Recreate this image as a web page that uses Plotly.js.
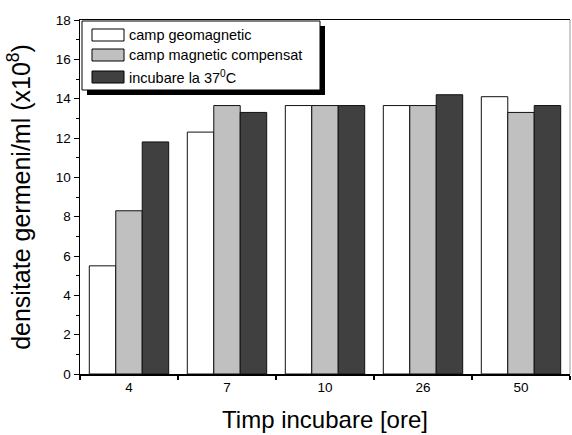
<!DOCTYPE html>
<html>
<head>
<meta charset="utf-8">
<script src="https://cdn.plot.ly/plotly-3.0.1.min.js"></script>
<style>html,body{margin:0;padding:0;background:#fff;}#chart{width:572px;height:435px;}</style>
</head>
<body>
<div id="chart"></div>
<script>
const categories = ["4", "7", "10", "26", "50"];
const seriesNames = ["camp geomagnetic", "camp magnetic compensat", "incubare la 37<sup>0</sup>C"];
const geomagnetic = [5.5, 12.3, 13.65, 13.65, 14.1];
const compensat = [8.3, 13.65, 13.65, 13.65, 13.3];
const incubare = [11.8, 13.3, 13.65, 14.2, 13.65];
const colors = ["#ffffff", "#c0c0c0", "#404040"];

const FONT = "Arial, 'Liberation Sans', sans-serif";
const W = 572, H = 435;
const M = {l: 80, r: 2, t: 20, b: 61};
const PW = W - M.l - M.r, PH = H - M.t - M.b;
const px = x => (x - M.l) / PW;
const py = y => (H - M.b - y) / PH;

const values = [geomagnetic, compensat, incubare];
const traces = values.map((v, i) => ({
  type: "bar",
  x: categories,
  y: v,
  name: seriesNames[i],
  marker: {color: colors[i], line: {color: "#111", width: 1}},
  showlegend: false,
  hoverinfo: "x+y"
}));

const shapes = [
  {type: "rect", xref: "paper", yref: "paper", x0: px(87), x1: px(325), y0: py(26), y1: py(95), fillcolor: "#000", line: {width: 0}},
  {type: "rect", xref: "paper", yref: "paper", x0: px(82), x1: px(320), y0: py(21), y1: py(90), fillcolor: "#fff", line: {color: "#000", width: 1}},
  {type: "line", xref: "paper", yref: "paper", x0: 1, x1: 1, y0: 0, y1: 1, line: {color: "#999", width: 1}}
];
const rowY = [35, 55, 77];
const annotations = [];
seriesNames.forEach((n, i) => {
  shapes.push({type: "rect", xref: "paper", yref: "paper", x0: px(92), x1: px(124), y0: py(rowY[i] - 6), y1: py(rowY[i] + 6), fillcolor: colors[i], line: {color: "#000", width: 1}});
  annotations.push({xref: "paper", yref: "paper", x: px(127), y: py(rowY[i]), text: n, showarrow: false, xanchor: "left", yanchor: "middle", font: {family: FONT, size: 14.5, color: "#000"}});
});

const layout = {
  width: W, height: H,
  margin: M,
  paper_bgcolor: "#fff", plot_bgcolor: "#fff",
  barmode: "group",
  bargap: 0.19,
  bargroupgap: 0,
  font: {family: FONT, color: "#000"},
  xaxis: {
    type: "category",
    range: [-0.5, 4.5],
    tickson: "boundaries",
    ticks: "outside", ticklen: 4, tickwidth: 1.5, tickcolor: "#000",
    showline: true, linecolor: "#000", linewidth: 1.5, mirror: true,
    showgrid: false, zeroline: false,
    tickfont: {family: FONT, size: 13.5},
    title: {text: "Timp incubare [ore]", font: {family: FONT, size: 24}, standoff: 17}
  },
  yaxis: {
    range: [0, 18],
    dtick: 2,
    ticks: "outside", ticklen: 5, tickwidth: 1, tickcolor: "#000",
    minor: {dtick: 1, ticks: "outside", ticklen: 3, tickcolor: "#000", showgrid: false},
    showline: true, linecolor: "#000", linewidth: 1.5,
    showgrid: false, zeroline: false,
    tickfont: {family: FONT, size: 13.5},
    title: {text: "densitate germeni/ml (x10<sup>8</sup>)", font: {family: FONT, size: 25}, standoff: 18}
  },
  shapes: shapes,
  annotations: annotations
};

Plotly.newPlot("chart", traces, layout, {displayModeBar: false, staticPlot: true});
</script>
</body>
</html>
